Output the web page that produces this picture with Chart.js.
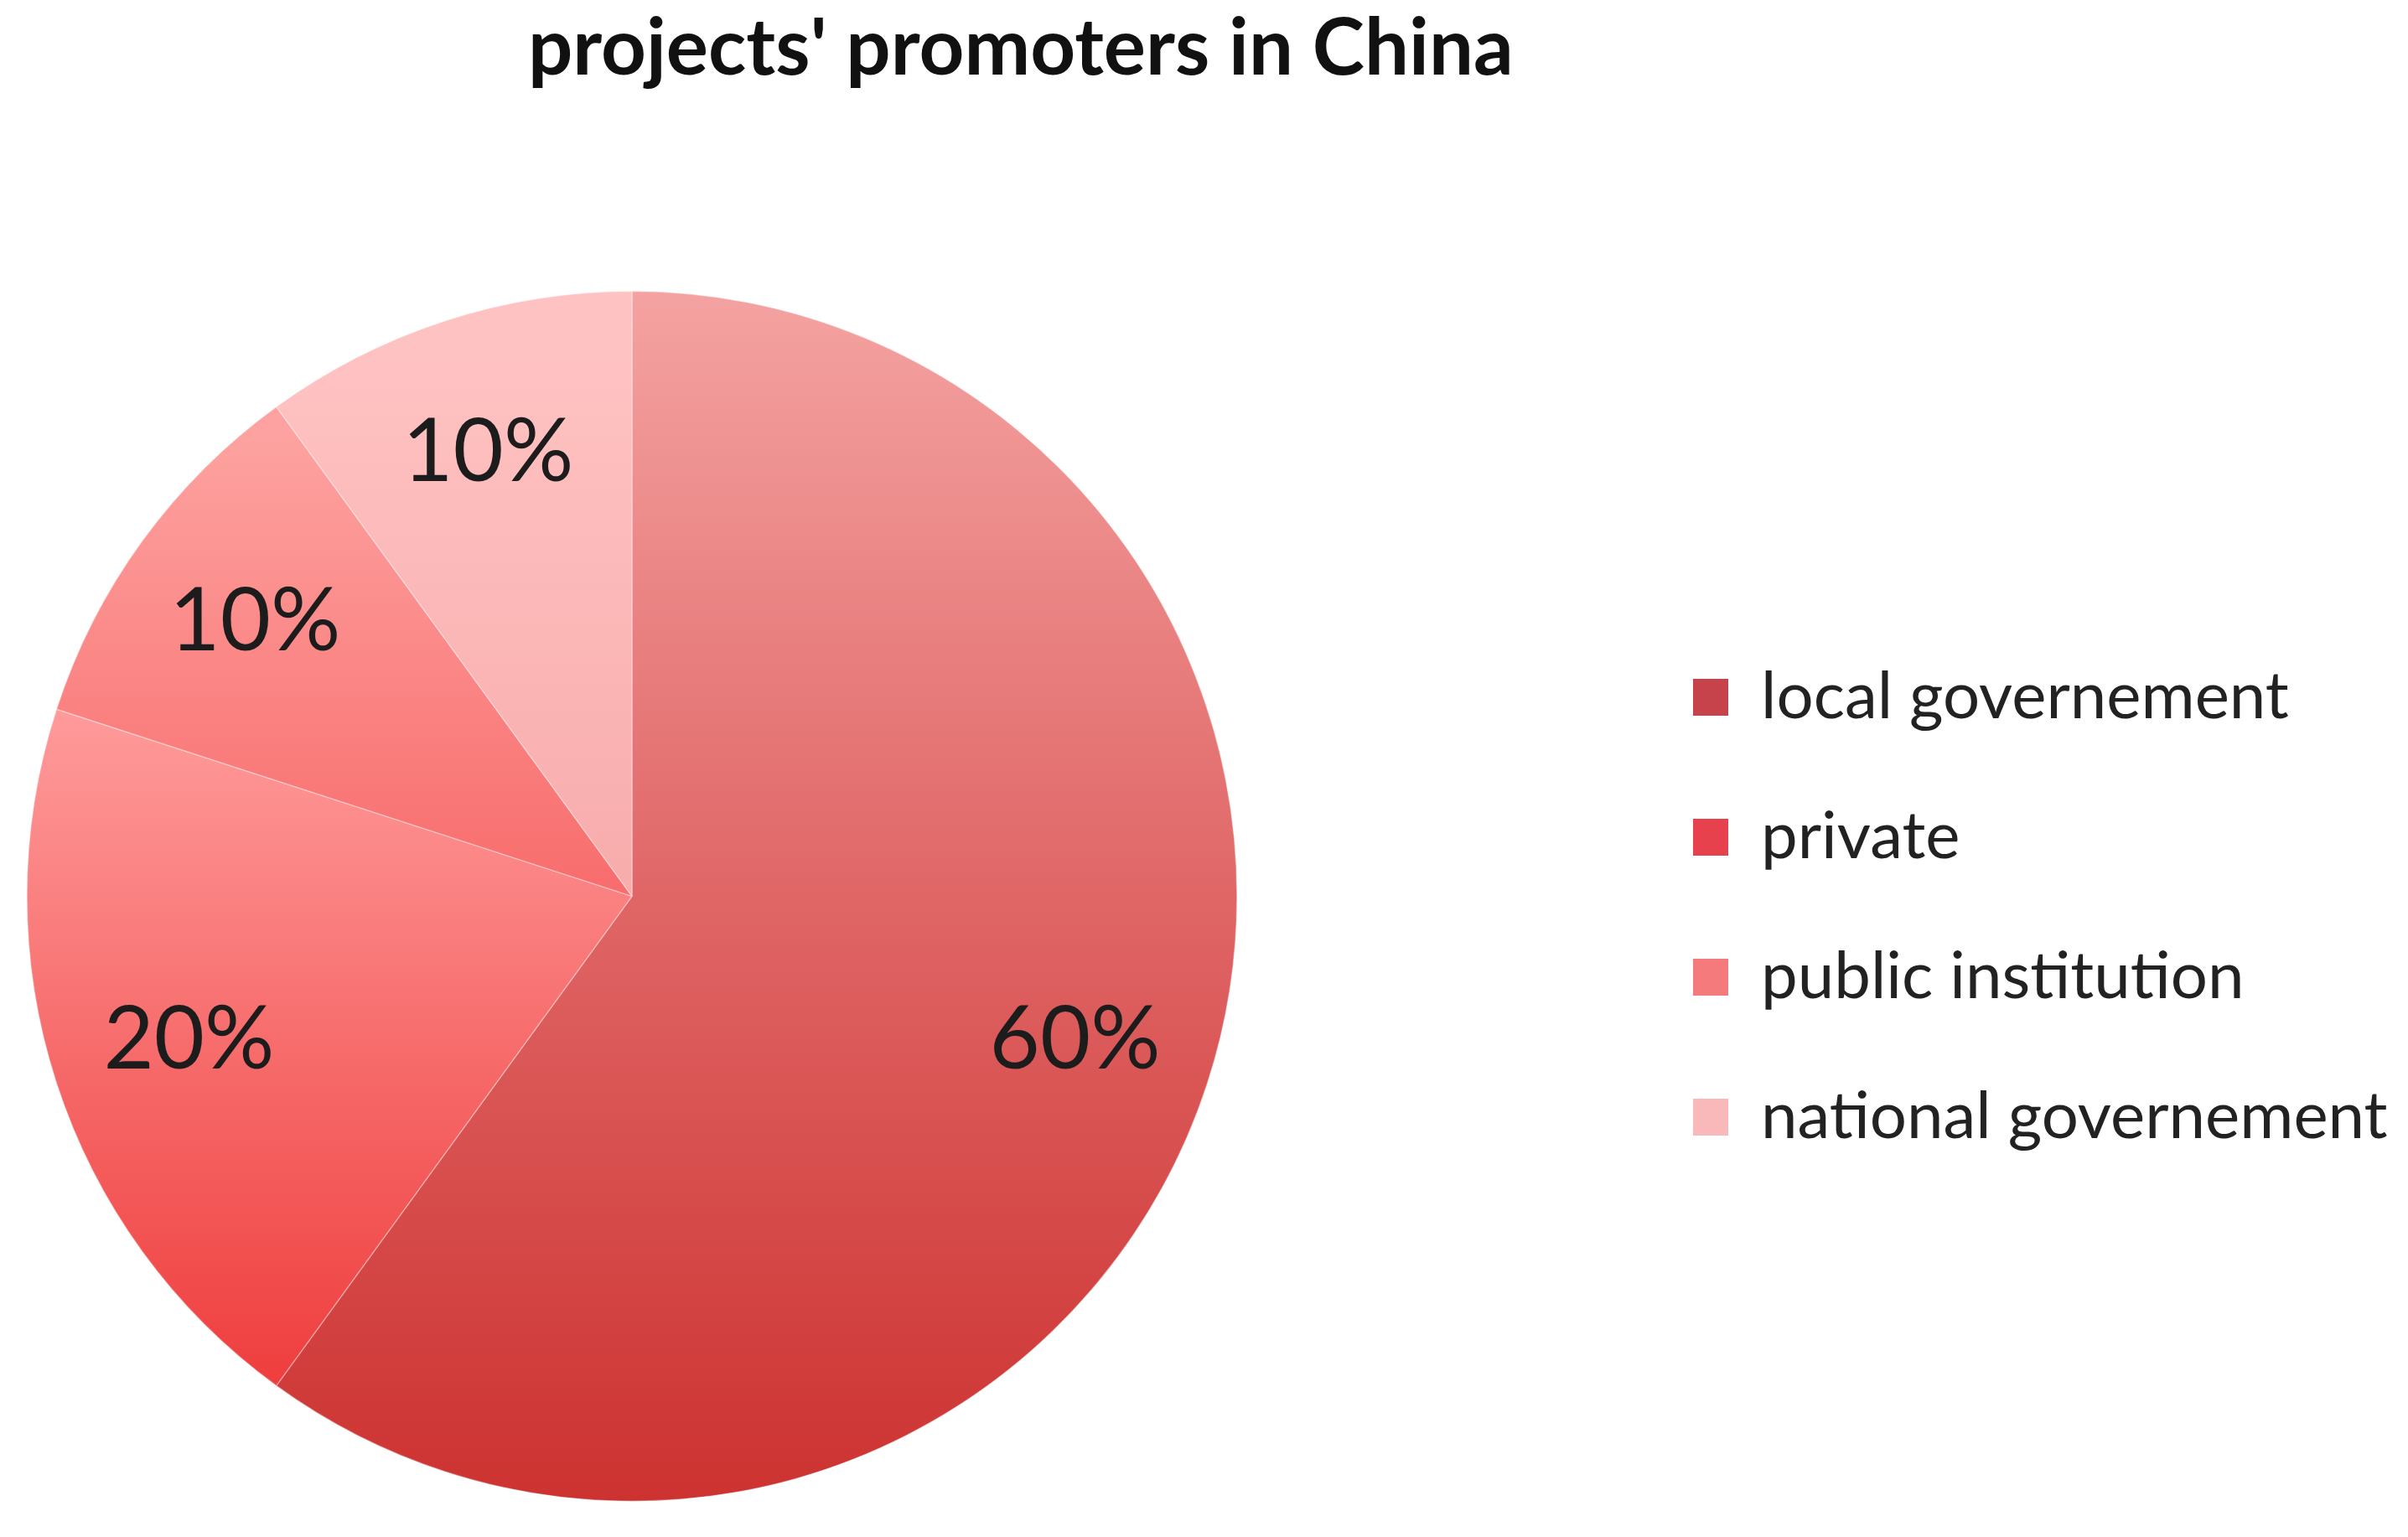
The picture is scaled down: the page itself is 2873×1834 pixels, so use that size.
<!DOCTYPE html>
<html>
<head>
<meta charset="utf-8">
<script src="https://cdn.jsdelivr.net/npm/chart.js"></script>
<style>
  html, body { margin: 0; padding: 0; background: #fff; overflow: hidden; }
  #page { width: 2873px; height: 1834px; overflow: hidden; position: relative; }
  #wrap { position: absolute; top: 0; height: 1834px; }
</style>
</head>
<body>
<div id="page"><div id="wrap"><canvas id="promoters-chart"></canvas></div></div>
<script>
// data
let categories = ["local governement", "private", "public institution", "national governement"]
let shares = [60, 20, 10, 10]

// gradient stops per slice, over the pie's height (0 = top, 1 = bottom)
let sliceStops = [
    [[0, "#f4a3a2"], [0.5, "#e06666"], [1, "#cc3230"]],
    [[0.35, "#ff9a9a"], [0.9, "#ef3e3e"]],
    [[0.12, "#fda2a0"], [0.5, "#f86c6c"]],
    [[0.05, "#ffc2c2"], [0.5, "#f8acac"]]
]
let legendColors = ["#c6434c", "#e6414d", "#f47a7c", "#f9b8b9"]

let legendFont = 78
let legendBox = 42
let legendPad = 89
let legendLeft = 1931
let pieCenterX = 754

// work out the legend width, then shift the canvas so the pie lands where it should
let measure = document.createElement("canvas").getContext("2d")
measure.font = legendFont + "px Lato"
let maxText = Math.max(...categories.map(t => measure.measureText(t).width))
let legendWidth = legendPad + legendBox + legendFont / 2 + maxText + 10
let padRight = 2873 - legendLeft - legendWidth
let shift = legendLeft - 2 * pieCenterX
let wrap = document.querySelector("#wrap")
wrap.style.left = (-shift) + "px"
wrap.style.width = (2873 + shift) + "px"

function sliceFill(context) {
    let chart = context.chart
    let area = chart.chartArea
    let stops = sliceStops[context.dataIndex]
    if (!area) return stops[0][1]
    let g = chart.ctx.createLinearGradient(0, area.top, 0, area.bottom)
    stops.forEach(s => g.addColorStop(s[0], s[1]))
    return g
}

let pctLabels = {
    id: "pctLabels",
    afterDatasetsDraw(chart) {
        let ctx = chart.ctx
        let meta = chart.getDatasetMeta(0)
        let total = shares.reduce((a, b) => a + b, 0)
        ctx.save()
        ctx.font = "104px Lato"
        ctx.fillStyle = "#1c1c1c"
        ctx.textAlign = "center"
        ctx.textBaseline = "middle"
        meta.data.forEach((arc, i) => {
            let p = arc.getProps(["x", "y", "startAngle", "endAngle", "outerRadius"], true)
            let mid = (p.startAngle + p.endAngle) / 2
            let r = p.outerRadius * 0.77
            ctx.fillText(Math.round(shares[i] / total * 100) + "%", p.x + Math.cos(mid) * r, p.y + Math.sin(mid) * r)
        })
        ctx.restore()
    }
}

let ctx = document.querySelector("#promoters-chart").getContext("2d")

let chart = new Chart(ctx, {
    type: "pie",
    data: {
        labels: categories,
        datasets: [{
            data: shares,
            backgroundColor: sliceFill,
            borderColor: "rgba(255,255,255,0.35)",
            borderWidth: 1.5
        }]
    },
    options: {
        responsive: true,
        maintainAspectRatio: false,
        animation: false,
        layout: {
            padding: { left: 0, right: padRight, top: 0, bottom: 42 }
        },
        plugins: {
            title: {
                display: true,
                text: "projects' promoters in China",
                color: "#111",
                font: { family: "Lato", size: 94, weight: "bold", lineHeight: 1.2 },
                padding: { top: 2, bottom: 232 }
            },
            legend: {
                position: "right",
                fullSize: false,
                title: {
                    display: true,
                    text: "",
                    padding: 0,
                    font: { size: 26, lineHeight: 1 }
                },
                labels: {
                    color: "#222",
                    font: { family: "Lato", size: legendFont },
                    boxWidth: legendBox,
                    boxHeight: 44,
                    padding: legendPad,
                    generateLabels(chart) {
                        return categories.map((c, i) => ({
                            text: c,
                            fillStyle: legendColors[i],
                            strokeStyle: legendColors[i],
                            fontColor: "#222",
                            lineWidth: 0,
                            hidden: false,
                            index: i
                        }))
                    }
                }
            },
            tooltip: { enabled: false }
        }
    },
    plugins: [pctLabels]
})
</script>
</body>
</html>
